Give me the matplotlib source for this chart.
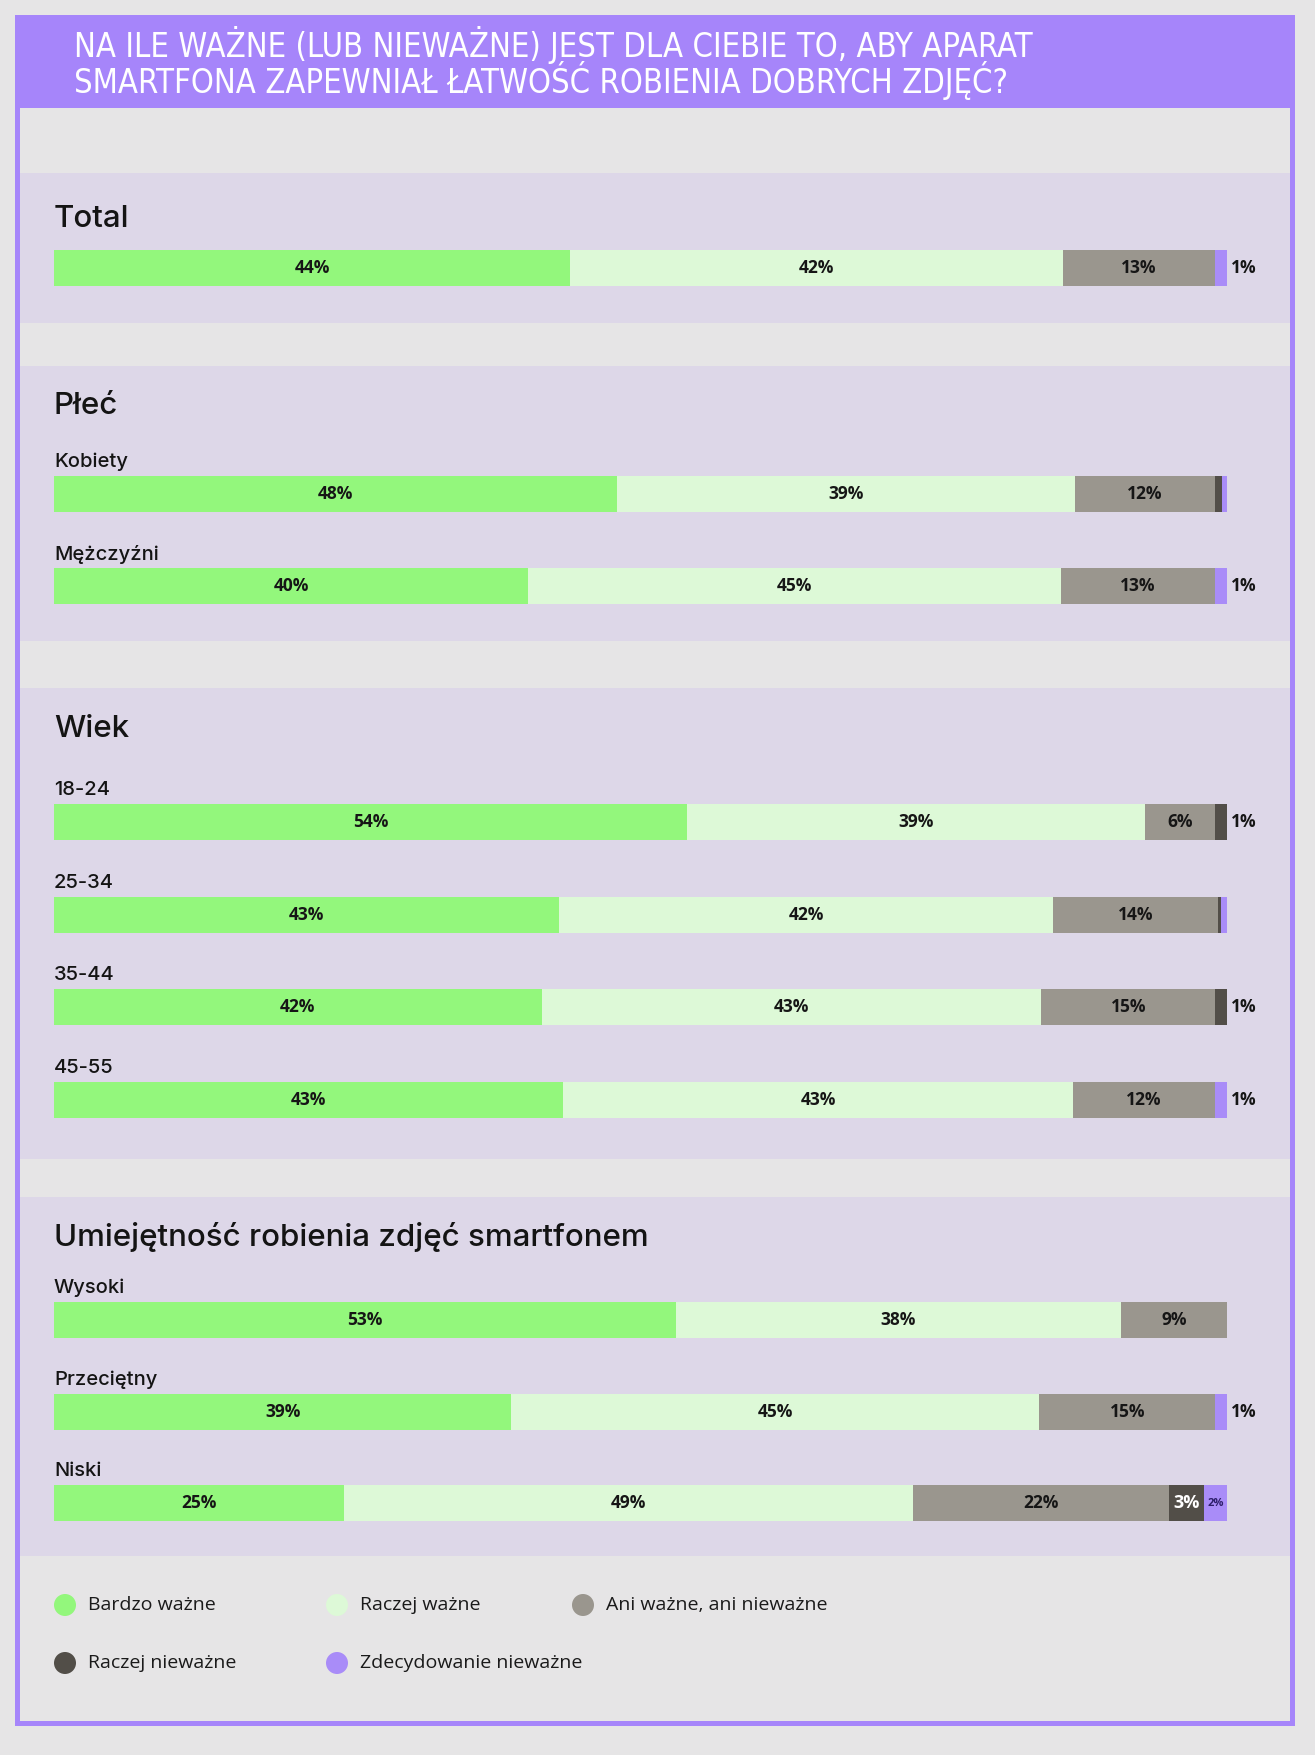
#!/usr/bin/env python3
"""Wykres: na ile ważne jest, aby aparat smartfona zapewniał łatwość robienia dobrych zdjęć"""

import matplotlib
matplotlib.use('Agg')
import matplotlib.pyplot as plt
from matplotlib import font_manager
from matplotlib.patches import Rectangle, Circle

# dane
title_lines = ['NA ILE WAŻNE (LUB NIEWAŻNE) JEST DLA CIEBIE TO, ABY APARAT',
               'SMARTFONA ZAPEWNIAŁ ŁATWOŚĆ ROBIENIA DOBRYCH ZDJĘĆ?']
groups = ['Total', 'Płeć', 'Wiek', 'Umiejętność robienia zdjęć smartfonem']
rows = ['Total', 'Kobiety', 'Mężczyźni', '18-24', '25-34', '35-44', '45-55',
        'Wysoki', 'Przeciętny', 'Niski']
series = ['Bardzo ważne', 'Raczej ważne', 'Ani ważne, ani nieważne',
          'Raczej nieważne', 'Zdecydowanie nieważne']
bardzo_wazne = [44, 48, 40, 54, 43, 42, 43, 53, 39, 25]
raczej_wazne = [42, 39, 45, 39, 42, 43, 43, 38, 45, 49]
ani_ani = [13, 12, 13, 6, 14, 15, 12, 9, 15, 22]
raczej_niewazne = [0, 0.6, 0, 1, 0.3, 1, 0, 0, 0, 3]
zdecydowanie_niewazne = [1, 0.4, 1, 0, 0.5, 0, 1, 0, 1, 2]

colors = ['#93f77c', '#ddf9d7', '#9a968e', '#524e48', '#a98cf8']
PURPLE = '#a685fa'
PANEL = '#ddd7e8'
GRAY = '#e6e5e6'

# układ (piksele od góry)
W, H = 1315, 1755
panels = [(173, 323), (366, 641), (688, 1159), (1197, 1556)]
heading_y = [219, 406, 729, 1237]
bar_y = [268, 494, 586, 822, 915, 1007, 1100, 1320, 1412, 1503]
BAR_X0, BAR_W, BAR_H = 54, 1173, 36

FONT = ['Open Sans', 'DejaVu Sans']
plt.rcParams['font.family'] = FONT

# wąska czcionka do tytułu, jeśli jest dostępna
narrow = [f for f in font_manager.fontManager.ttflist
          if 'Narrow' in f.name or 'Condensed' in f.name
          or f.stretch in ('condensed', 'semi-condensed', 'extra-condensed')]
title_family = [narrow[0].name, 'DejaVu Sans'] if narrow else ['Roboto', 'DejaVu Sans']
title_stretch = narrow[0].stretch if narrow else 'normal'
title_size = 23.5 if narrow else 20.5

fig = plt.figure(figsize=(W / 100, H / 100), dpi=100)
fig.patch.set_facecolor(GRAY)

bg = fig.add_axes([0, 0, 1, 1])
bg.set_xlim(0, W)
bg.set_ylim(H, 0)
bg.axis('off')

# ramka i tła sekcji
bg.add_patch(Rectangle((15, 15), 1280, 1711, facecolor=PURPLE, edgecolor='none'))
bg.add_patch(Rectangle((20, 108), 1270, 1613, facecolor=GRAY, edgecolor='none'))
for top, bottom in panels:
    bg.add_patch(Rectangle((20, top), 1270, bottom - top, facecolor=PANEL, edgecolor='none'))

bg.text(74, 63, '\n'.join(title_lines), color='white', fontsize=title_size,
        va='center', ha='left', linespacing=0.9,
        family=title_family, stretch=title_stretch, weight='medium')

for name, y in zip(groups, heading_y):
    bg.text(54, y, name, fontsize=22.5, va='center', ha='left', color='#141414',
            family=['Inter', 'DejaVu Sans'], weight='medium')

values = list(zip(bardzo_wazne, raczej_wazne, ani_ani, raczej_niewazne, zdecydowanie_niewazne))

for i, (name, yc, vals) in enumerate(zip(rows, bar_y, values)):
    if i > 0:
        bg.text(54, yc - 32, name, fontsize=14.5, va='center', ha='left', color='#141414',
                family=['Inter', 'DejaVu Sans'], weight='medium')
    ax = fig.add_axes([BAR_X0 / W, 1 - (yc + BAR_H / 2) / H, BAR_W / W, BAR_H / H])
    ax.set_xlim(0, 100)
    ax.set_ylim(-0.5, 0.5)
    ax.axis('off')
    total = sum(vals)
    left = 0
    for j, v in enumerate(vals):
        w = v / total * 100
        if w > 0:
            ax.barh(0, w, left=left, height=1, color=colors[j], linewidth=0)
        if v >= 2:
            if j == 3:
                tc, fs = 'white', 13
            elif j == 4:
                tc, fs = '#2e1f6b', 8
            else:
                tc, fs = '#161616', 12.5
            ax.text(left + w / 2, 0, f'{v:.0f}%', ha='center', va='center',
                    fontsize=fs, color=tc, weight='bold')
        elif v == 1:
            ax.text(100.3, 0, '1%', ha='left', va='center', fontsize=12.5,
                    color='#161616', weight='bold', clip_on=False)
        left += w

# legenda
legend_pos = [(65, 1605), (337, 1605), (583, 1605), (65, 1663), (337, 1663)]
for (x, y), name, c in zip(legend_pos, series, colors):
    bg.add_patch(Circle((x, y), 11, facecolor=c, edgecolor='none'))
    bg.text(x + 23, y, name, fontsize=14, va='center', ha='left', color='#1a1a1a')

plt.savefig('out.png', dpi=100, facecolor=GRAY)
